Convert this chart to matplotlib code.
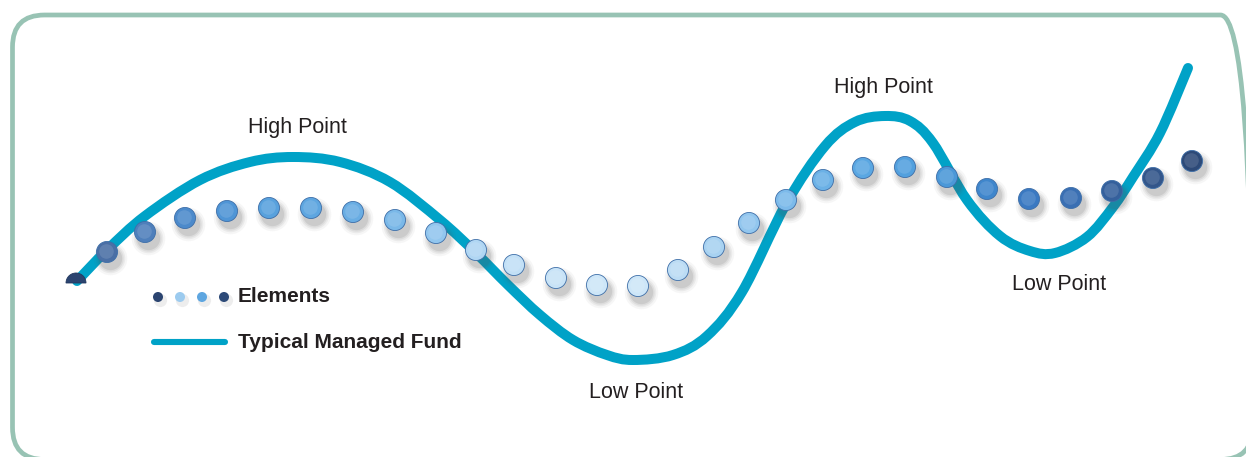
import numpy as np
import matplotlib.pyplot as plt
from matplotlib.patches import FancyBboxPatch, Wedge, PathPatch
from matplotlib.path import Path

# typical managed fund curve (x, y, y grows downward)
fund_x = [77, 107, 145, 200, 250, 293, 340, 390, 440, 476, 508, 540, 573,
          607, 633, 673, 707, 742, 786, 825, 855, 885, 910, 933, 967, 1000,
          1030, 1055, 1087, 1113, 1133, 1160, 1188]
fund_y = [281, 250, 216, 180, 162, 157, 162, 182, 220, 253, 285, 315, 340,
          355, 360, 355, 336, 292, 204, 146, 122, 116, 121, 143, 200, 236,
          251, 253, 237, 207, 177, 133, 68]

# elements dots
elem_x = [107, 145, 185, 227, 269, 311, 353, 395, 436, 476, 514, 556, 597, 638,
          678, 714, 749, 786, 823, 863, 905, 947, 987, 1029, 1071, 1112, 1153, 1192]
elem_y = [252, 232, 218, 211, 208, 208, 212, 220, 233, 250, 265, 278, 285, 286,
          270, 247, 223, 200, 180, 168, 167, 177, 189, 199, 198, 191, 178, 161]
elem_colors = ["#4a6fa5", "#4f7fbb", "#4c8acb", "#4f95d6", "#58a1dd", "#5ea6e0",
               "#69ade3", "#7ab8e8", "#92c6ee", "#b0d6f3", "#c2e0f6", "#c8e3f7",
               "#cde6f8", "#cde6f8", "#bcdcf4", "#a8d2f1", "#92c6ee", "#7cbaea",
               "#6bb1e6", "#5aa7e2", "#52a0de", "#4b98d8", "#3f86cc", "#3a79c2",
               "#3a6fb3", "#35609c", "#33568a", "#2d4a78"]
start_dot = (76, 283)

labels = ["High Point", "Low Point", "High Point", "Low Point"]
label_x = [297, 636, 883, 1059]
label_y = [128, 392, 88, 285]

legend_dot_x = [158, 180, 202, 224]
legend_dot_colors = ["#2b4470", "#9ccbef", "#5ea6e0", "#2d4a78"]

fund_color = "#00a2c7"
text_color = "#231f20"

plt.rcParams['font.family'] = ['Liberation Sans', 'DejaVu Sans']

fig = plt.figure(figsize=(12.46, 4.57), dpi=100)

# frame on its own axes with a normal (not inverted) y axis
frame_ax = fig.add_axes([0, 0, 1, 1])
frame_ax.set_xlim(0, 1246)
frame_ax.set_ylim(0, 457)
frame_ax.axis("off")
frame = FancyBboxPatch((12.5, -2.5), 1240, 444.5,
                       boxstyle="round,pad=0,rounding_size=32",
                       facecolor="none", edgecolor="#98c3b4", linewidth=3.4,
                       clip_on=False)
frame_ax.add_patch(frame)

ax = fig.add_axes([0, 0, 1, 1])
ax.set_xlim(0, 1246)
ax.set_ylim(457, 0)
ax.axis("off")

# smooth path through the read points (cubic bezier segments)
pts = np.column_stack([fund_x, fund_y]).astype(float)
verts = [pts[0]]
codes = [Path.MOVETO]
for i in range(len(pts) - 1):
    p0 = pts[i - 1] if i > 0 else pts[i]
    p1, p2 = pts[i], pts[i + 1]
    p3 = pts[i + 2] if i + 2 < len(pts) else pts[i + 1]
    verts += [p1 + (p2 - p0) / 6, p2 - (p3 - p1) / 6, p2]
    codes += [Path.CURVE4] * 3
ax.add_patch(PathPatch(Path(verts, codes), facecolor="none",
                       edgecolor=fund_color, linewidth=7.2,
                       capstyle="round", joinstyle="round", zorder=2))

# soft shadows under the dots
for grow, alpha in [(2.6, 0.05), (2.0, 0.07), (1.6, 0.09), (1.25, 0.12)]:
    ax.scatter([x + 3 for x in elem_x], [y + 6 for y in elem_y],
               s=225 * grow, color="#555555", alpha=alpha,
               linewidths=0, zorder=3)

ax.scatter(elem_x, elem_y, s=230, c=elem_colors, edgecolors="#3d6ea8",
           linewidths=0.6, zorder=4)
# small highlight inside each dot
ax.scatter([x - 1 for x in elem_x], [y - 1 for y in elem_y], s=110,
           color="white", alpha=0.12, linewidths=0, zorder=5)

ax.add_patch(Wedge(start_dot, 10, 180, 360, facecolor="#2b4470",
                   edgecolor="#22385e", linewidth=0.6, zorder=4))

for txt, x, y in zip(labels, label_x, label_y):
    ax.text(x, y, txt, ha="center", va="center", fontsize=15.5,
            color=text_color)

# legend
ax.scatter([x + 2 for x in legend_dot_x], [300] * 4, s=90, color="#555555",
           alpha=0.1, linewidths=0, zorder=3)
ax.scatter(legend_dot_x, [297] * 4, s=52, c=legend_dot_colors,
           linewidths=0, zorder=4)
ax.text(238, 297, "Elements", ha="left", va="center", fontsize=15,
        fontweight="bold", color=text_color)
ax.plot([154, 225], [342, 342], color=fund_color, linewidth=4.4,
        solid_capstyle="round")
ax.text(238, 342, "Typical Managed Fund", ha="left", va="center",
        fontsize=15, fontweight="bold", color=text_color)

fig.savefig("out.png", dpi=100)
plt.close(fig)
